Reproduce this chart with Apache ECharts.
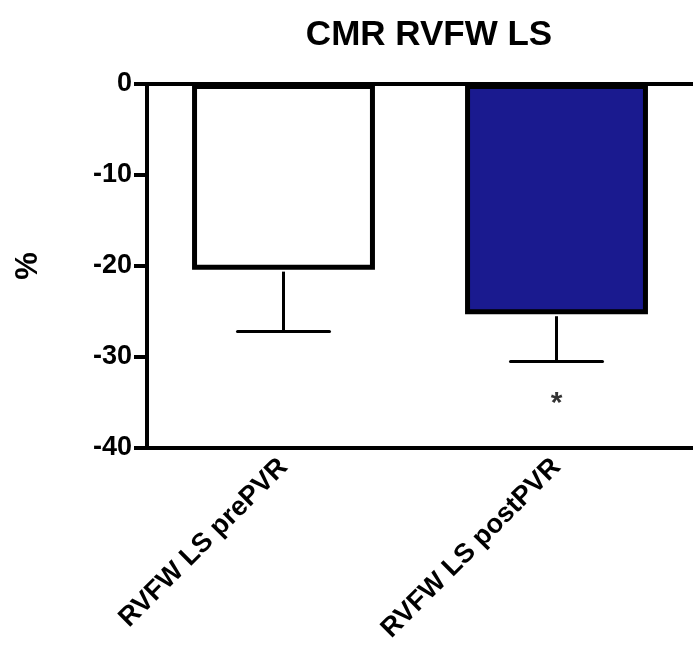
<!DOCTYPE html>
<html>
<head>
<meta charset="utf-8">
<script src="https://cdn.jsdelivr.net/npm/echarts@6/dist/echarts.min.js"></script>
<style>html,body{margin:0;padding:0;background:#fff;}#c{width:693px;height:659px;}</style>
</head>
<body>
<div id="c"></div>
<script>
const categories = ['RVFW LS prePVR', 'RVFW LS postPVR'];
const means = [-20.4, -25.3];
const errLow = [-27.2, -30.5];
const barColors = ['#ffffff', '#1a1a8f'];
const sigMarks = ['', '*'];
const sigY = [null, -34.7];
const yTicks = [0, -10, -20, -30, -40];

const FONT = 'Liberation Sans, Arial, sans-serif';
const chart = echarts.init(document.getElementById('c'));

chart.setOption({
  animation: false,
  backgroundColor: '#fff',
  title: {
    text: 'CMR RVFW LS',
    left: 424, top: 13, textAlign: 'center',
    textStyle: { fontFamily: FONT, fontWeight: 'bold', fontSize: 35, color: '#000' }
  },
  grid: { left: 147, top: 84, bottom: 211, right: -4, containLabel: false },
  xAxis: [{
    type: 'category', data: categories, position: 'bottom',
    axisLine: { onZero: false, lineStyle: { color: '#000', width: 4 } },
    axisTick: { alignWithLabel: true, length: 13, lineStyle: { color: '#000', width: 4 } },
    axisLabel: { rotate: 45, margin: 15, fontFamily: FONT, fontWeight: 'bold', fontSize: 27, color: '#000', interval: 0 }
  }, {
    type: 'category', data: categories, position: 'top',
    axisLine: { onZero: false, lineStyle: { color: '#000', width: 4 } },
    axisTick: { show: false }, axisLabel: { show: false }
  }],
  yAxis: {
    type: 'value', min: -40, max: 0, interval: 10,
    name: '%', nameLocation: 'middle', nameGap: 103, nameRotate: 90,
    nameTextStyle: { fontFamily: FONT, fontWeight: 'bold', fontSize: 31, color: '#000' },
    axisLine: { show: true, lineStyle: { color: '#000', width: 4 } },
    axisTick: { show: true, length: 13, lineStyle: { color: '#000', width: 4 } },
    axisLabel: { margin: 15, fontFamily: FONT, fontWeight: 'bold', fontSize: 27, color: '#000',
      formatter: v => yTicks.includes(v) ? String(v) : '' },
    splitLine: { show: false }
  },
  series: [{
    type: 'bar', barWidth: '67%',
    data: means.map((v, i) => ({ value: v, itemStyle: { color: barColors[i], borderColor: '#000', borderWidth: 5 } })),
    z: 2
  }, {
    type: 'custom',
    data: means.map((v, i) => [i, v, errLow[i]]),
    renderItem: function (params, api) {
      const x = api.value(0);
      const top = api.coord([x, api.value(1)]);
      const bot = api.coord([x, api.value(2)]);
      const hw = 46;
      return {
        type: 'group',
        children: [
          { type: 'line', shape: { x1: top[0], y1: top[1] + 2, x2: bot[0], y2: bot[1] }, style: { stroke: '#000', lineWidth: 3 } },
          { type: 'line', shape: { x1: bot[0] - hw, y1: bot[1], x2: bot[0] + hw, y2: bot[1] }, style: { stroke: '#000', lineWidth: 3, lineCap: 'round' } }
        ]
      };
    },
    z: 3
  }, {
    type: 'scatter', symbolSize: 0,
    data: sigY.map((v, i) => v === null ? null : { value: [i, v], label: { show: true, formatter: sigMarks[i] } }).filter(d => d),
    label: { show: true, position: 'inside', fontFamily: FONT, fontWeight: 'bold', fontSize: 30, color: '#000', offset: [0, 4] },
    z: 4
  }]
});
</script>
</body>
</html>
